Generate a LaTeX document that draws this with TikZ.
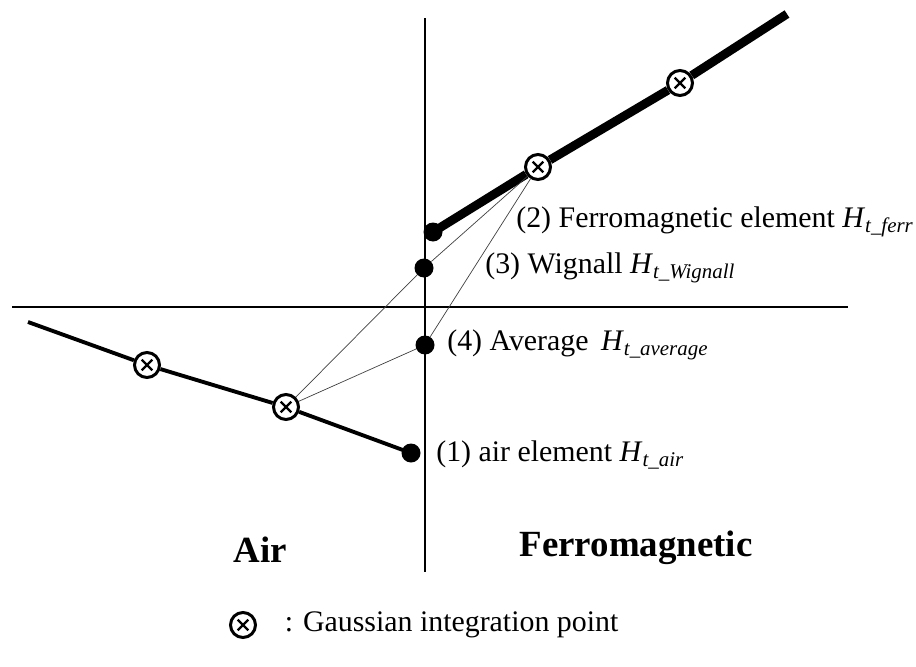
\documentclass[tikz,border=0pt]{standalone}
\usepackage{fontspec}
\setmainfont{Liberation Serif}
\usetikzlibrary{positioning}

\newcommand{\Hsub}[1]{\textit{H}\textsubscript{\textit{t\_#1}}}

\begin{document}
\begin{tikzpicture}[
    x=0.02cm, y=-0.02cm,
    axis/.style={line width=0.7pt},
    ferr/.style={line width=5pt},
    airline/.style={line width=2.2pt},
    thin/.style={line width=0.4pt, black!75},
    dot/.style={circle, fill, inner sep=0pt, minimum size=0.38cm},
    gauss/.style={circle, draw, fill=white, line width=1.7pt, inner sep=0pt, minimum size=0.5cm,
      path picture={
        \draw[line width=1.3pt] ([shift={(-3pt,-3pt)}]path picture bounding box.center) -- ([shift={(3pt,3pt)}]path picture bounding box.center);
        \draw[line width=1.3pt] ([shift={(-3pt,3pt)}]path picture bounding box.center) -- ([shift={(3pt,-3pt)}]path picture bounding box.center);
      }},
    lbl/.style={anchor=west, inner sep=0pt, font=\fontsize{17}{20}\selectfont},
    region/.style={font=\fontsize{21}{25}\selectfont\bfseries}
]
\useasboundingbox (0,0) rectangle (916,666);

% axes
\coordinate (vtop) at (425,18);
\coordinate (vbot) at (425,572);
\coordinate (hleft) at (12,307);
\coordinate (hright) at (848,307);
\draw[axis] (vtop) -- (vbot);
\draw[axis] (hleft) -- (hright);

% ferromagnetic element
\coordinate (fend) at (787,14);
\node[dot] (fstart) at (433,232) {};
\node[gauss] (fg1) at (538,167) {};
\node[gauss] (fg2) at (680,83) {};
\draw[ferr] (fstart.center) -- (fg1) (fg1) -- (fg2) (fg2) -- (fend);

% air element
\coordinate (astart) at (28,322);
\node[gauss] (ag1) at (147,365) {};
\node[gauss] (ag2) at (286,407) {};
\node[dot] (aend) at (411,453) {};
\draw[airline] (astart) -- (ag1) (ag1) -- (ag2) (ag2) -- (aend.center);

% interface values
\node[dot] (wig) at (424,268) {};
\node[dot] (avg) at (425,345) {};
\draw[thin] (ag2) -- (wig);
\draw[thin] (ag2) -- (avg);
\draw[thin] (fg1) -- (wig);
\draw[thin] (fg1) -- (avg);

% labels
\node[lbl] (lferr) at (516,222) {(2) Ferromagnetic element \Hsub{ferr}};
\node[lbl] (lwig) at (485,268) {(3) Wignall \Hsub{Wignall}};
\node[lbl] (lavg) at (447,345) {(4) Average \,\Hsub{average}};
\node[lbl] (lair) at (436,455) {(1) air element \Hsub{air}};

\node[region] (air) at (260,550) {Air};
\node[region] (ferro) at (636,548) {Ferromagnetic};

% legend
\node[gauss] (lgauss) at (243,625) {};
\node[lbl, right=0.55cm of lgauss] (lgtext) {: Gaussian integration point};
\end{tikzpicture}
\end{document}
